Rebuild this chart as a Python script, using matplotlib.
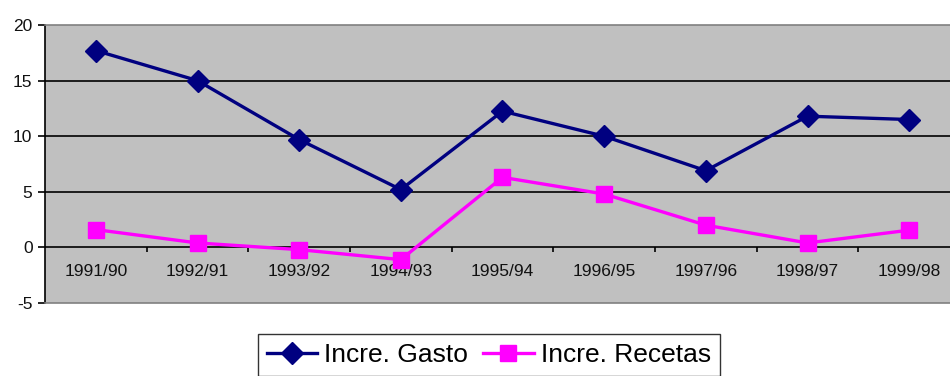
import matplotlib
matplotlib.use("Agg")
import matplotlib.pyplot as plt
from matplotlib.ticker import FixedLocator, NullFormatter

plt.rcParams['font.family'] = ['Liberation Sans', 'DejaVu Sans']

periods = ["1991/90", "1992/91", "1993/92", "1994/93", "1995/94",
           "1996/95", "1997/96", "1998/97", "1999/98"]
gasto = [17.7, 15.0, 9.7, 5.2, 12.25, 10.0, 6.9, 11.8, 11.5]
recetas = [1.6, 0.4, -0.2, -1.1, 6.3, 4.8, 2.0, 0.4, 1.55]
y_ticks = [-5, 0, 5, 10, 15, 20]

W, H = 950, 376
fig = plt.figure(figsize=(W / 100, H / 100), dpi=100)
left, right, top, bottom = 45, 960, 25, 303
ax = fig.add_axes([left / W, 1 - bottom / H, (right - left) / W, (bottom - top) / H])
ax.set_facecolor("#C0C0C0")

x = list(range(len(periods)))
ax.set_xlim(-0.5, len(periods) - 0.5)
ax.set_ylim(-5, 20)

# horizontal gridlines
for v in [5, 10, 15]:
    ax.axhline(v, color="black", lw=1.2, zorder=1)
# category axis drawn at zero
ax.axhline(0, color="black", lw=1.2, zorder=1)
for i in range(len(periods) - 1):
    ax.plot([i + 0.5, i + 0.5], [0, -0.45], color="black", lw=1.2, zorder=1,
            solid_capstyle="butt")
for i, lab in enumerate(periods):
    ax.text(i, -2.15, lab, ha="center", va="center", fontsize=12.5, color="#111111")

ax.plot(x, gasto, color="#000080", lw=2.4, marker="D", ms=11, zorder=3,
        label="Incre. Gasto")
ax.plot(x, recetas, color="#FF00FF", lw=2.4, marker="s", ms=12, zorder=3,
        label="Incre. Recetas")

ax.set_xticks([])
ax.yaxis.set_major_locator(FixedLocator(y_ticks))
ax.set_yticklabels([str(v) for v in y_ticks], fontsize=12.5, color="#111111")
ax.tick_params(axis="y", direction="out", length=5, width=1.2, color="black", pad=4)

for s in ["top", "right", "bottom"]:
    ax.spines[s].set_color("#808080")
    ax.spines[s].set_linewidth(1.2)
ax.spines["left"].set_color("black")
ax.spines["left"].set_linewidth(1.2)

leg = fig.legend(loc="upper center", bbox_to_anchor=(489 / W, 1 - 334 / H),
                 ncol=2, fontsize=19, frameon=True, fancybox=False,
                 edgecolor="black", handlelength=1.9, handletextpad=0.27,
                 columnspacing=0.57, borderpad=0.35, borderaxespad=0)
leg.get_frame().set_linewidth(1.0)

fig.savefig("out.png", dpi=100, facecolor="white")
